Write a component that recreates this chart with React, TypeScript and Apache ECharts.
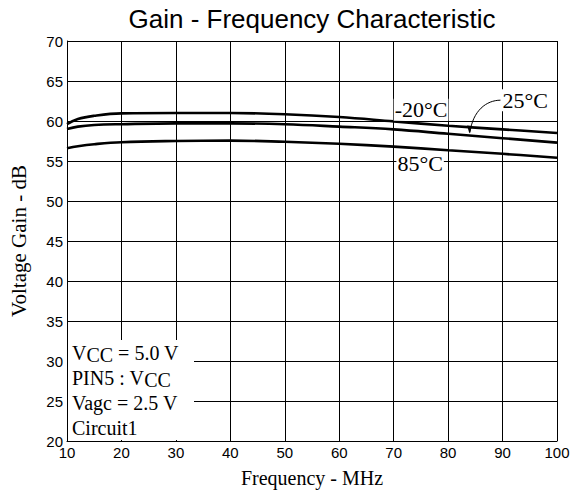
import React, { useEffect, useRef } from "react";
import * as echarts from "echarts";

const freq = [10, 12, 15, 20, 30, 40, 50, 60, 70, 80, 90, 100];
const gainM20 = [59.6, 60.25, 60.65, 60.95, 61.0, 61.0, 60.85, 60.5, 59.95, 59.4, 58.95, 58.5];
const gain25 = [59.0, 59.3, 59.5, 59.6, 59.7, 59.7, 59.6, 59.3, 58.95, 58.4, 57.85, 57.3];
const gain85 = [56.6, 56.85, 57.1, 57.35, 57.5, 57.55, 57.4, 57.15, 56.8, 56.35, 55.9, 55.4];
const seriesNames = ["-20°C", "25°C", "85°C"];
const conditionLines = ["{n|V}{s|CC}{n| = 5.0 V}", "{n|PIN5 : V}{s|CC}", "{n|Vagc = 2.5 V}", "{n|Circuit1}"];
const titleText = "Gain - Frequency Characteristic";

const SERIF = "'Liberation Serif', 'Times New Roman', serif";
const SANS = "'Liberation Sans', Arial, sans-serif";

export default function App() {
  const ref = useRef<HTMLDivElement>(null);
  useEffect(() => {
    if (!ref.current) return;
    const chart = echarts.init(ref.current, undefined, { renderer: "svg" });
    const mk = (name: string, vals: number[]) => ({
      name,
      type: "line",
      data: freq.map((f, i) => [f, vals[i]]),
      smooth: 0.4,
      showSymbol: false,
      lineStyle: { color: "#000", width: 2.6 },
      z: 3,
    });
    chart.setOption({
      animation: false,
      grid: { left: 67, right: 14, top: 41, bottom: 49, containLabel: false, outerBoundsMode: "none" },
      xAxis: {
        type: "value",
        min: 10,
        max: 100,
        interval: 10,
        name: "Frequency - MHz",
        nameLocation: "middle",
        nameGap: 27,
        nameTextStyle: { fontFamily: SERIF, fontSize: 20, color: "#000" },
        axisLine: { show: true, lineStyle: { color: "#000", width: 1 } },
        axisTick: { show: false },
        axisLabel: { fontFamily: SANS, fontSize: 15, color: "#000", margin: 4 },
        splitLine: { show: true, lineStyle: { color: "#000", width: 1 } },
      },
      yAxis: {
        type: "value",
        min: 20,
        max: 70,
        interval: 5,
        name: "Voltage Gain - dB",
        nameLocation: "middle",
        nameGap: 38,
        nameTextStyle: { fontFamily: SERIF, fontSize: 21, color: "#000" },
        axisLine: { show: true, lineStyle: { color: "#000", width: 1 } },
        axisTick: { show: false },
        axisLabel: { fontFamily: SANS, fontSize: 15, color: "#000", margin: 4 },
        splitLine: { show: true, lineStyle: { color: "#000", width: 1 } },
      },
      series: [mk(seriesNames[0], gainM20), mk(seriesNames[1], gain25), mk(seriesNames[2], gain85)],
    });

    const px = (f: number, v: number) => chart.convertToPixel({ gridIndex: 0 }, [f, v]) as number[];
    const p0 = px(10, 20);
    const pTop = px(100, 70);
    const pL1 = px(70, 61.4);
    const pL2 = px(89.8, 62.6);
    const pL3 = px(70.5, 54.75);
    const tip = px(84, 58.55);
    const tempStyle = {
      fontFamily: SERIF,
      fontSize: 22,
      fill: "#000",
      backgroundColor: "#fff",
      verticalAlign: "middle",
      padding: [0, 1, 0, 1],
    };
    const rich = {
      n: { fontFamily: SERIF, fontSize: 20, lineHeight: 25, verticalAlign: "middle", color: "#000" },
      s: { fontFamily: SERIF, fontSize: 20, lineHeight: 14, verticalAlign: "bottom", color: "#000" },
    };
    const sx = pL2[0] - 1;
    const sy = pL2[1];
    const ex = tip[0];
    const ey = tip[1];
    chart.setOption({
      graphic: [
        {
          type: "text",
          x: (p0[0] + pTop[0]) / 2,
          y: 19,
          style: {
            text: titleText,
            fontFamily: SANS,
            fontSize: 26,
            fill: "#000",
            textAlign: "center",
            verticalAlign: "middle",
          },
        },
        {
          type: "rect",
          shape: { x: p0[0] + 1, y: p0[1] - 101, width: 126, height: 100 },
          style: { fill: "#fff" },
          z: 10,
        },
        ...conditionLines.map((t, i) => ({
          type: "text",
          x: p0[0] + 5,
          y: p0[1] - 101 + i * 25,
          style: { text: t, rich, verticalAlign: "top" },
          z: 11,
        })),
        { type: "text", x: pL1[0], y: pL1[1], style: { ...tempStyle, text: "-20°C" }, z: 11 },
        { type: "text", x: pL2[0], y: pL2[1], style: { ...tempStyle, text: "25°C" }, z: 11 },
        { type: "text", x: pL3[0], y: pL3[1], style: { ...tempStyle, text: "85°C" }, z: 11 },
        {
          type: "bezierCurve",
          shape: {
            x1: sx,
            y1: sy,
            cpx1: sx - 14,
            cpy1: sy,
            cpx2: ex + 3,
            cpy2: ey - 22,
            x2: ex,
            y2: ey,
          },
          style: { stroke: "#000", lineWidth: 1, fill: null },
          z: 11,
        },
        {
          type: "polygon",
          shape: {
            points: [
              [ex - 0.5, ey + 1],
              [ex - 2.8, ey - 7],
              [ex + 2.2, ey - 6.5],
            ],
          },
          style: { fill: "#000" },
          z: 11,
        },
      ],
    });
    return () => chart.dispose();
  }, []);
  return (
    <div
      ref={ref}
      style={{ position: "fixed", left: 0, top: 0, width: 571, height: 490, background: "#fff" }}
    />
  );
}
